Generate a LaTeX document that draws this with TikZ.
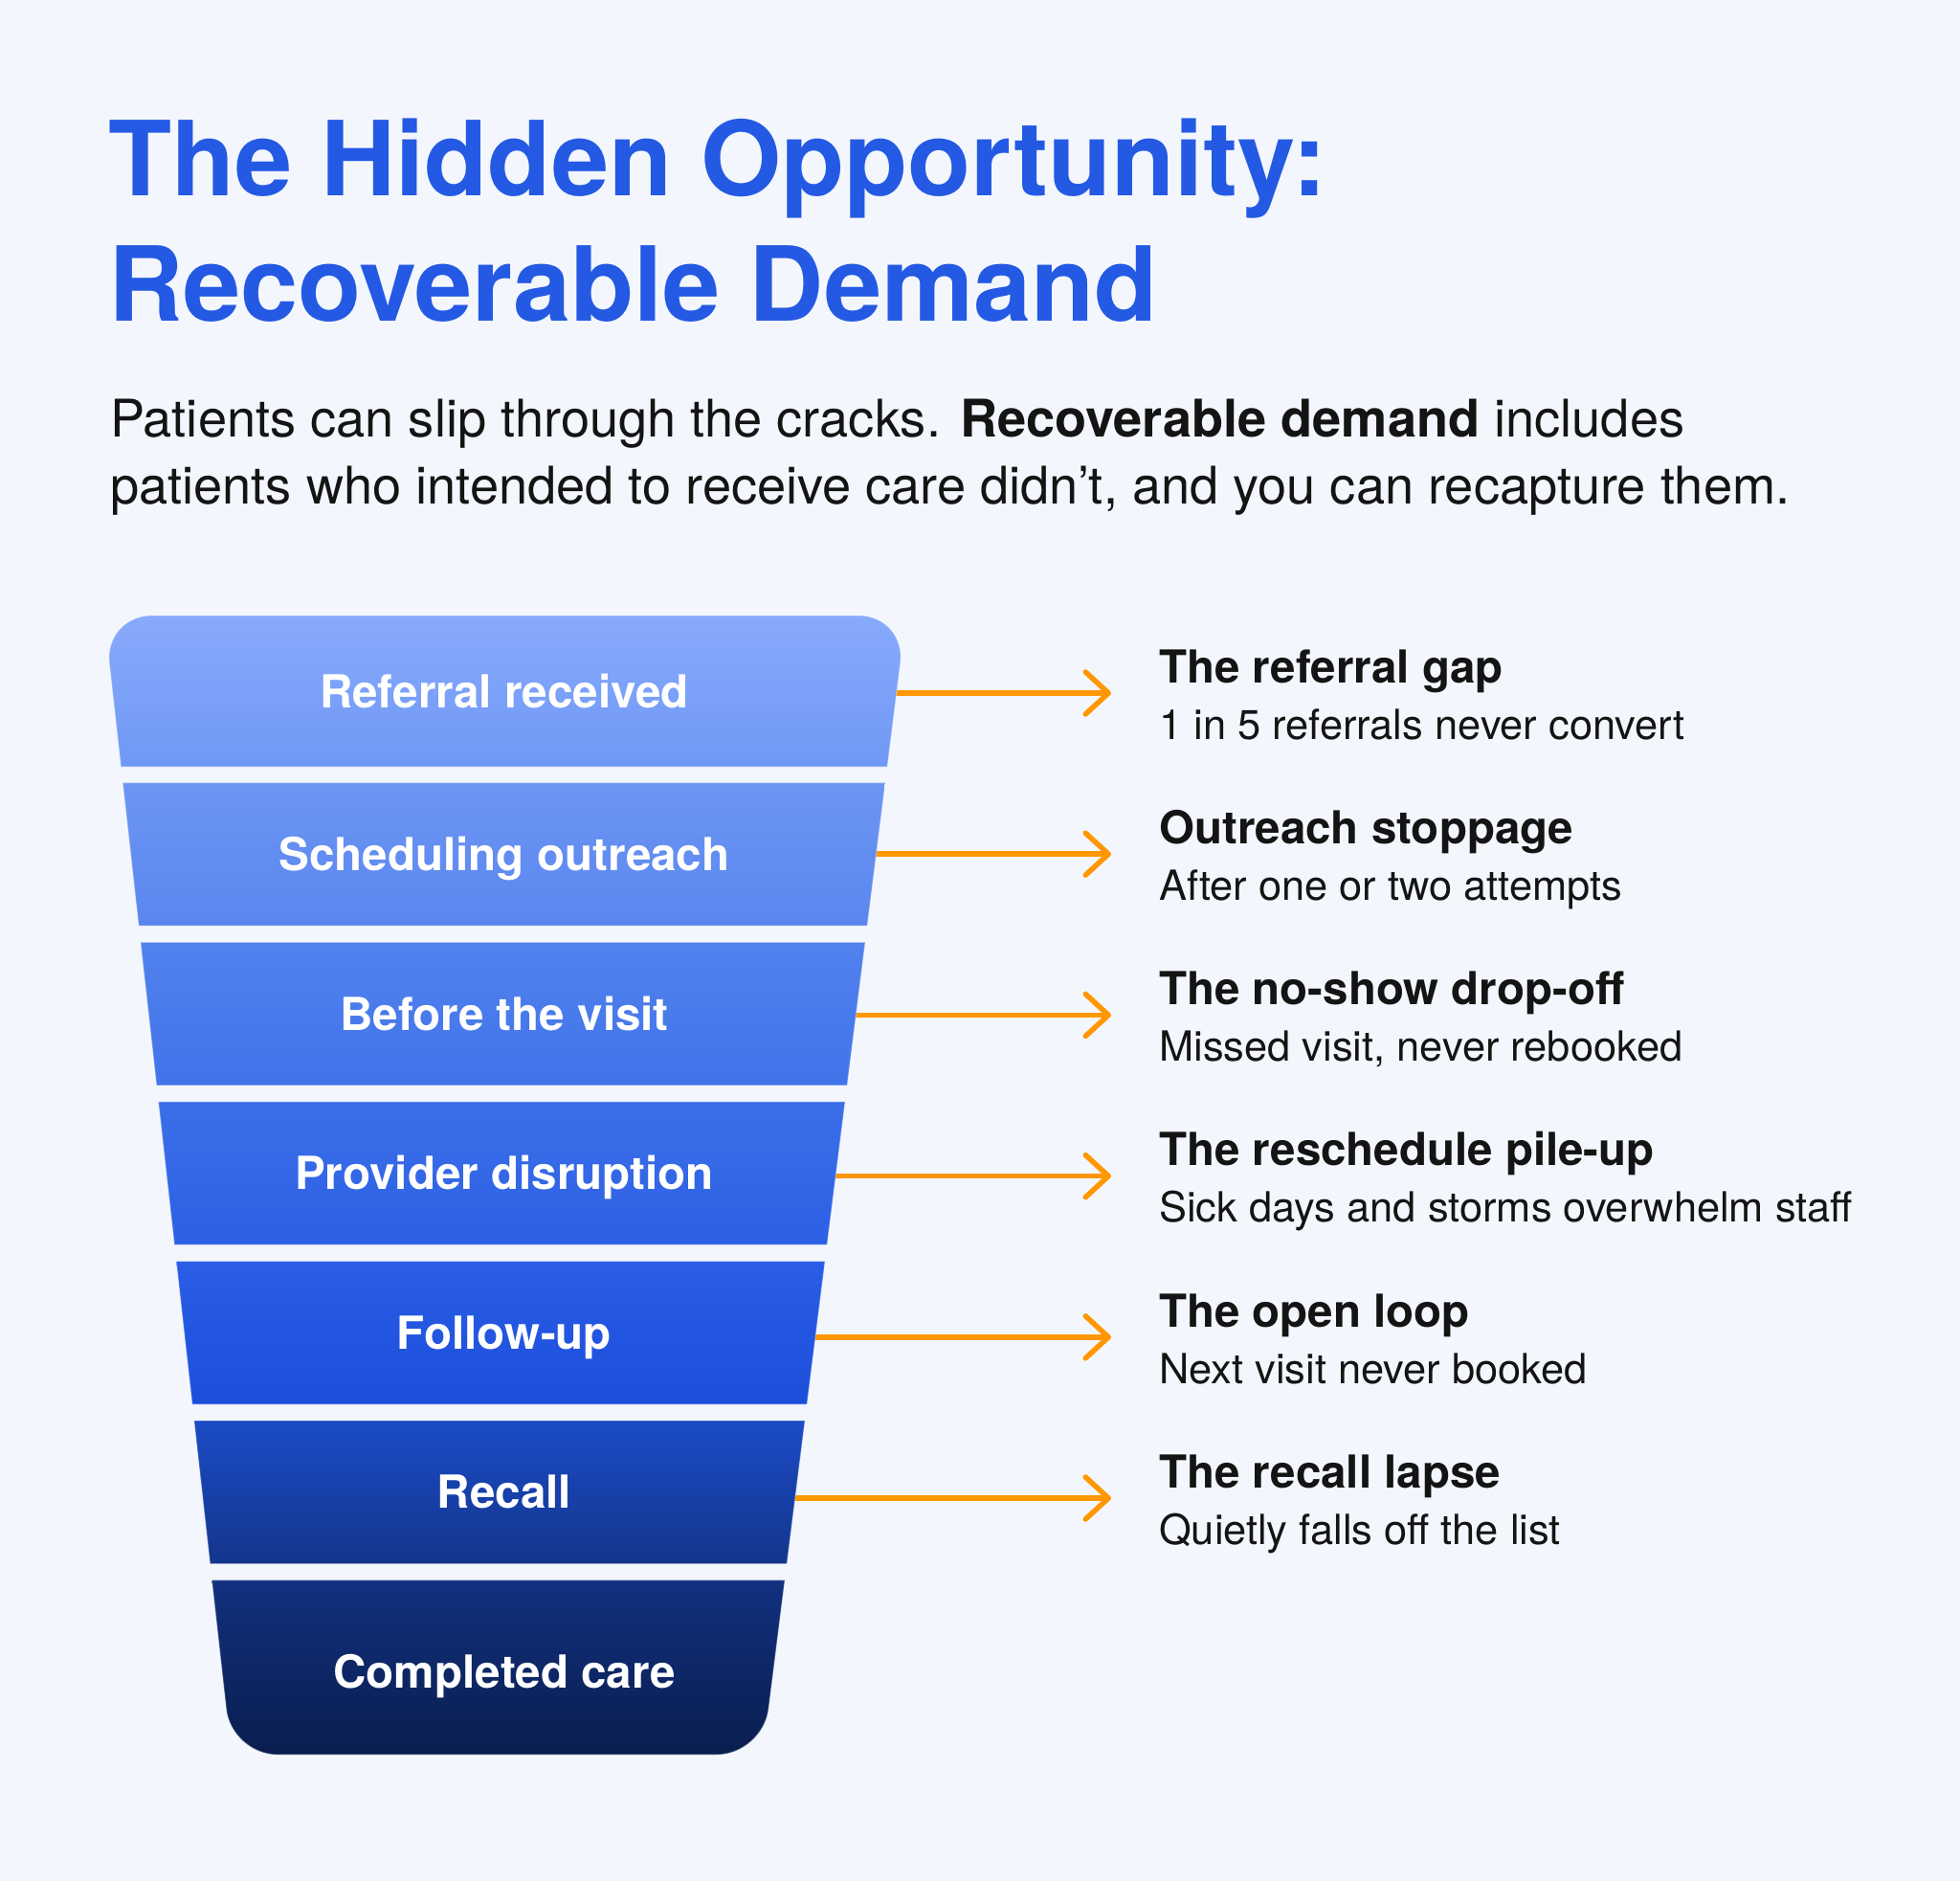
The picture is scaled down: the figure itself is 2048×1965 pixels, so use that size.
\documentclass[tikz,border=0pt]{standalone}
\usepackage{fontspec}
\setmainfont{TeX Gyre Heros}
\usetikzlibrary{arrows.meta}
\definecolor{bg}{HTML}{F3F7FD}
\definecolor{titleblue}{HTML}{2459E3}
\definecolor{ink}{HTML}{141414}
\definecolor{arrorange}{HTML}{FF9700}
\definecolor{ba1}{HTML}{88AAFC}\definecolor{bb1}{HTML}{6F98F5}
\definecolor{ba2}{HTML}{6C95F3}\definecolor{bb2}{HTML}{5A86EF}
\definecolor{ba3}{HTML}{5282EE}\definecolor{bb3}{HTML}{4173EA}
\definecolor{ba4}{HTML}{3B6FE9}\definecolor{bb4}{HTML}{2C60E4}
\definecolor{ba5}{HTML}{2A5EE6}\definecolor{bb5}{HTML}{1C4EDA}
\definecolor{ba6}{HTML}{1B4BC6}\definecolor{bb6}{HTML}{13358C}
\definecolor{ba7}{HTML}{11307F}\definecolor{bm7}{HTML}{0B2258}\definecolor{bb7}{HTML}{0A1E4E}
\tikzset{
  bandlabel/.style={anchor=base, inner sep=0pt, text=white, font=\fontsize{47.6}{50}\selectfont\bfseries},
  headtext/.style={anchor=base west, inner sep=0pt, text=ink, font=\fontsize{47.5}{50}\selectfont\bfseries},
  subtext/.style={anchor=base west, inner sep=0pt, text=ink, font=\fontsize{43.4}{46}\selectfont},
  titletext/.style={anchor=base west, inner sep=0pt, text=titleblue, font=\fontsize{108.2}{120}\selectfont\bfseries},
  bodytext/.style={anchor=base west, inner sep=0pt, text=ink, font=\fontsize{54.2}{60}\selectfont},
  leak/.style={draw=arrorange, line width=5.5pt, line cap=round,
    -{Straight Barb[length=24pt, width=44pt, line width=5.5pt, round]}},
  bandedge/.style={draw=white, draw opacity=0.3, line width=1.2pt},
}
\begin{document}
\begin{tikzpicture}[x=1pt,y=-1pt]
\useasboundingbox (0,0) rectangle (2048,1965);
\fill[bg] (0,0) rectangle (2048,1965);

% title and intro
\node[titletext] (title1) at (113,204) {The Hidden Opportunity:};
\node[titletext] (title2) at (113,335) {Recoverable Demand};
\node[bodytext] (body1) at (115,456) {Patients can slip through the cracks. \textbf{Recoverable demand} includes};
\node[bodytext] (body2) at (115,526) {patients who intended to receive care didn’t, and you can recapture them.};

% arrows (drawn first, under the funnel)
\foreach \k in {1,...,6} {
  \pgfmathsetmacro\ya{724+(\k-1)*168.2}
  \pgfmathsetmacro\xa{940.7-0.126*(\ya-693)-4}
  \coordinate (e\k) at (\xa,\ya);
  \coordinate (tip\k) at (1161,\ya);
  \draw[leak] (e\k) -- (tip\k);
}

% funnel bands
\shade[top color=ba1, bottom color=bb1, bandedge]
  (126.4,801) [rounded corners=50pt] -- (108.7,643) -- (947.0,643) [sharp corners] -- (927.1,801) -- cycle;
\foreach \k/\T/\B in {2/817.7/967.2, 3/984.3/1133.8, 4/1150.9/1300.4, 5/1317.5/1467.0, 6/1484.1/1633.6} {
  \pgfmathsetmacro\xlt{114.3+0.1119*(\T-693)}
  \pgfmathsetmacro\xlb{114.3+0.1119*(\B-693)}
  \pgfmathsetmacro\xrt{940.7-0.126*(\T-693)}
  \pgfmathsetmacro\xrb{940.7-0.126*(\B-693)}
  \shade[top color=ba\k, bottom color=bb\k, bandedge]
    (\xlt,\T) -- (\xrt,\T) -- (\xrb,\B) -- (\xlb,\B) -- cycle;
}
\shade[top color=ba7, middle color=bm7, bottom color=bb7, bandedge]
  (221.4,1650.7) [rounded corners=48pt] -- (241.8,1833) -- (797.0,1833) [sharp corners] -- (820.0,1650.7) -- cycle;

% band labels
\node[bandlabel] (l1) at (527,739) {Referral received};
\node[bandlabel] (l2) at (527,909.5) {Scheduling outreach};
\node[bandlabel] (l3) at (527,1076) {Before the visit};
\node[bandlabel] (l4) at (527,1242.7) {Provider disruption};
\node[bandlabel] (l5) at (527,1409.3) {Follow-up};
\node[bandlabel] (l6) at (527,1575.9) {Recall};
\node[bandlabel] (l7) at (527,1763) {Completed care};

% right-hand texts
\node[headtext] (h1) at (1211,713) {The referral gap};
\node[subtext]  (s1) at (1211,772) {1 in 5 referrals never convert};
\node[headtext] (h2) at (1211,881.3) {Outreach stoppage};
\node[subtext]  (s2) at (1211,940.3) {After one or two attempts};
\node[headtext] (h3) at (1211,1049.6) {The no-show drop-off};
\node[subtext]  (s3) at (1211,1108.6) {Missed visit, never rebooked};
\node[headtext] (h4) at (1211,1217.9) {The reschedule pile-up};
\node[subtext]  (s4) at (1211,1276.9) {Sick days and storms overwhelm staff};
\node[headtext] (h5) at (1211,1386.2) {The open loop};
\node[subtext]  (s5) at (1211,1445.2) {Next visit never booked};
\node[headtext] (h6) at (1211,1554.5) {The recall lapse};
\node[subtext]  (s6) at (1211,1613.5) {Quietly falls off the list};
\end{tikzpicture}
\end{document}
